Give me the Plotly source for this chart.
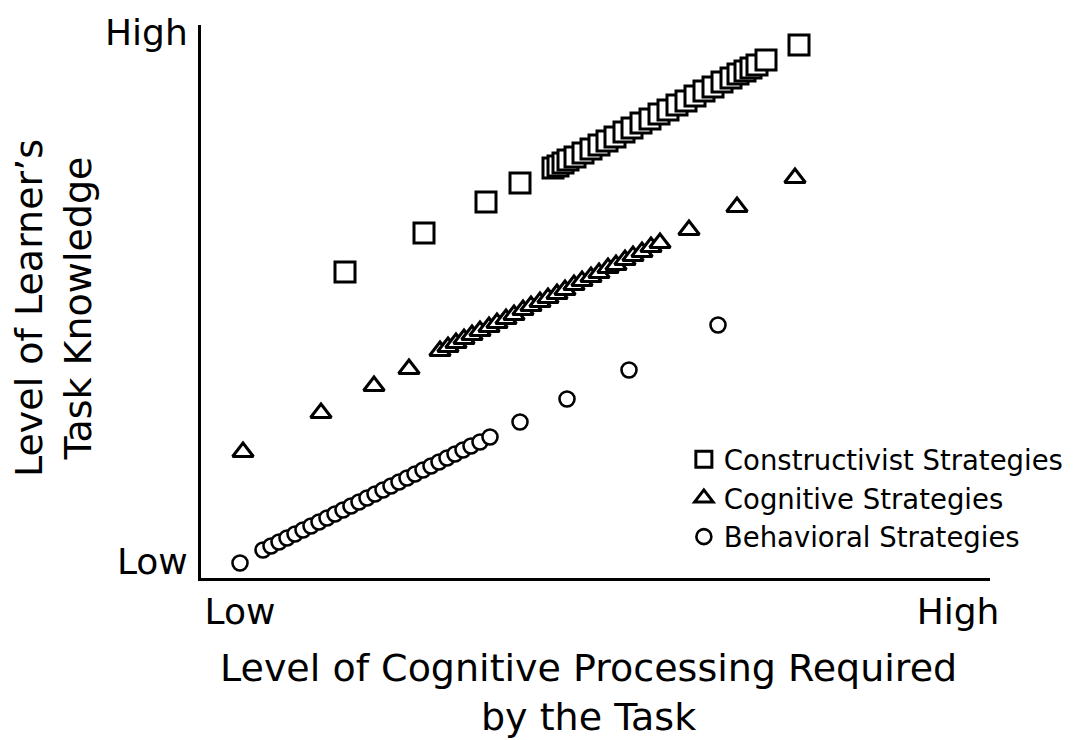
import plotly.graph_objects as go

# Values on an arbitrary 0..789 (x) by 0..553 (y) scale
constructivist_x = [144, 223, 285, 319, 352, 357, 362, 367, 374, 382, 390, 398, 406, 414,
                    423, 431, 440, 449, 458, 467, 476, 485, 494, 503, 512, 521, 530, 537,
                    544, 550, 556, 565, 598]
constructivist_y = [306, 345, 376, 395, 410, 412, 415, 418, 421, 425, 429, 433, 437, 441,
                    446, 450, 455, 459, 464, 468, 473, 477, 482, 487, 491, 496, 500, 504,
                    507, 510, 513, 518, 533]

cognitive_x = [42, 120, 173, 208, 239, 247, 255, 263, 271, 279, 288, 296, 305, 313, 322,
               330, 339, 347, 356, 364, 373, 381, 390, 398, 407, 415, 424, 432, 441, 450,
               459, 488, 536, 594]
cognitive_y = [126, 165, 192, 209, 227, 231, 235, 239, 243, 247, 251, 255, 259, 263, 268,
               272, 276, 280, 284, 288, 293, 297, 301, 305, 310, 313, 318, 322, 326, 331,
               335, 348, 371, 400]

behavioral_x = [39, 62, 70, 78, 86, 94, 102, 110, 118, 126, 134, 142, 150, 158, 166, 174,
                182, 190, 198, 206, 214, 222, 230, 238, 246, 254, 262, 270, 279, 289,
                319, 366, 428, 517]
behavioral_y = [15, 28, 32, 36, 40, 44, 48, 52, 56, 60, 64, 68, 72, 76, 80, 84, 88, 92,
                96, 100, 104, 108, 112, 116, 120, 124, 128, 132, 136, 141, 156, 179, 208,
                253]

series_names = ["Constructivist Strategies", "Cognitive Strategies", "Behavioral Strategies"]

x_tick_vals = [39, 757]
x_tick_text = ["Low", "High"]
y_tick_vals = [17, 546]
y_tick_text = ["Low", "High"]

x_title = "Level of Cognitive Processing Required<br>by the Task"
y_title = "Level of Learner’s<br>Task Knowledge"

FONT = "DejaVu Sans"

fig = go.Figure()
fig.add_trace(go.Scatter(
    x=constructivist_x, y=constructivist_y, mode="markers", name=series_names[0],
    marker=dict(symbol="square", size=20, color="white",
                line=dict(color="black", width=3)),
    cliponaxis=False,
))
fig.add_trace(go.Scatter(
    x=cognitive_x, y=cognitive_y, mode="markers", name=series_names[1],
    marker=dict(symbol="triangle-up", size=18, color="white",
                line=dict(color="black", width=3)),
    cliponaxis=False,
))
fig.add_trace(go.Scatter(
    x=behavioral_x, y=behavioral_y, mode="markers", name=series_names[2],
    marker=dict(symbol="circle", size=15, color="white",
                line=dict(color="black", width=2.6)),
    cliponaxis=False,
))

fig.update_layout(
    width=1070, height=732,
    margin=dict(l=193, r=88, t=17, b=162, autoexpand=False),
    paper_bgcolor="white", plot_bgcolor="white",
    font=dict(family=FONT, color="black"),
    showlegend=True,
    legend=dict(
        x=0.612, y=0.259, xanchor="left", yanchor="top",
        font=dict(family=FONT, size=27.5, color="black"),
        bgcolor="rgba(0,0,0,0)", itemsizing="trace", tracegroupgap=0,
    ),
    xaxis=dict(
        range=[0, 789], showgrid=False, zeroline=False, automargin=False,
        showline=True, linecolor="black", linewidth=3,
        tickvals=x_tick_vals, ticktext=x_tick_text, ticks="",
        tickfont=dict(family=FONT, size=36, color="black"),
        ticklabelstandoff=0,
    ),
    yaxis=dict(
        range=[0, 553], showgrid=False, zeroline=False, automargin=False,
        showline=True, linecolor="black", linewidth=3,
        tickvals=y_tick_vals, ticktext=y_tick_text, ticks="",
        tickfont=dict(family=FONT, size=36, color="black"),
        ticklabelstandoff=3,
    ),
    annotations=[
        dict(text=x_title, xref="paper", yref="paper", x=0.4905, y=-0.2062,
             xanchor="center", yanchor="middle", showarrow=False,
             font=dict(family=FONT, size=38, color="black")),
        dict(text=y_title, xref="paper", yref="paper", x=-0.1876, y=0.488,
             xanchor="center", yanchor="middle", showarrow=False, textangle=-90,
             font=dict(family=FONT, size=38, color="black")),
    ],
)

fig.write_html("out.html")
